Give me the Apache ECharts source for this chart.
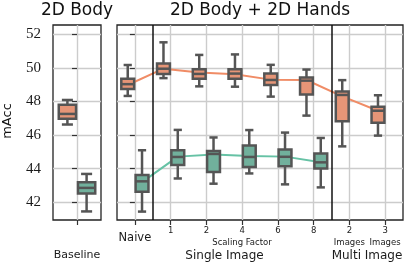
<!DOCTYPE html>
<html><head><meta charset="utf-8">
<script src="https://cdn.jsdelivr.net/npm/echarts@6/dist/echarts.min.js"></script>
<style>html,body{margin:0;padding:0;background:#fff}#c{width:407px;height:263px}</style>
</head><body><div id="c"></div>
<script>
// ---------- data ----------
const categories = ['Naive', '1', '2', '4', '6', '8', '2 Images', '3 Images'];
const baselineCategory = ['Baseline'];
const yTicks = [42, 44, 46, 48, 50, 52];
const separators = [0.5, 5.5];
// box values: [min, q1, median, q3, max]
const baselineOrange = [46.63, 46.98, 47.26, 47.80, 48.09];
const baselineGreen  = [41.46, 42.52, 42.86, 43.19, 43.69];
const orangeBoxes = [
  [48.33, 48.75, 49.03, 49.36, 50.17],
  [49.39, 49.64, 49.95, 50.26, 51.52],
  [48.90, 49.35, 49.64, 49.92, 50.77],
  [48.88, 49.36, 49.66, 49.92, 50.80],
  [48.29, 48.98, 49.28, 49.66, 50.18],
  [47.16, 48.41, 49.24, 49.42, 49.90],
  [45.33, 46.82, 48.39, 48.59, 49.27],
  [45.97, 46.74, 47.45, 47.68, 48.37]
];
const greenBoxes = [
  [41.45, 42.63, 43.25, 43.62, 45.10],
  [43.42, 44.22, 44.70, 45.10, 46.31],
  [43.11, 43.80, 44.88, 45.05, 45.86],
  [43.72, 44.10, 44.70, 45.38, 46.30],
  [43.07, 44.15, 44.71, 45.14, 46.15],
  [42.89, 44.02, 44.38, 44.90, 45.83]
];
const orangeLine = [48.98, 49.95, 49.72, 49.62, 49.30, 49.28, 48.30, 47.45];
const greenLine  = [43.20, 44.72, 44.85, 44.75, 44.72, 44.38];

// ---------- styling ----------
const ORANGE_FILL = '#e69577', GREEN_FILL = '#71b09c';
const ORANGE_LINE = '#f08c66', GREEN_LINE = '#66c2a5';
const EDGE = '#555555';
const GRIDC = '#cccccc';
const SANS = '"DejaVu Sans"';
const SERIF = '"Liberation Serif"';
const OFF = 0.2;
const EDGE_W = 2.5;

function makeBoxRender(fill, off) {
  return function (params, api) {
    const xi = api.value(0);
    const band = api.size([1, 0])[0];
    const cx = api.coord([xi, api.value(3)])[0] + off * band;
    const y = k => api.coord([xi, api.value(k)])[1];
    const yMin = y(1), yQ1 = y(2), yMed = y(3), yQ3 = y(4), yMax = y(5);
    const w = band * 0.36, cap = band * 0.115;
    const st = { stroke: EDGE, lineWidth: EDGE_W };
    return { type: 'group', children: [
      { type: 'line', shape: { x1: cx, y1: yQ1, x2: cx, y2: yMin }, style: st },
      { type: 'line', shape: { x1: cx, y1: yQ3, x2: cx, y2: yMax }, style: st },
      { type: 'line', shape: { x1: cx - cap, y1: yMin, x2: cx + cap, y2: yMin }, style: st },
      { type: 'line', shape: { x1: cx - cap, y1: yMax, x2: cx + cap, y2: yMax }, style: st },
      { type: 'rect', shape: { x: cx - w / 2, y: yQ3, width: w, height: yQ1 - yQ3 },
        style: { fill: fill, stroke: EDGE, lineWidth: EDGE_W } },
      { type: 'line', shape: { x1: cx - w / 2, y1: yMed, x2: cx + w / 2, y2: yMed }, style: st }
    ]};
  };
}

const boxData = (arr) => arr.map((v, i) => [i].concat(v));

const yAxisCommon = {
  type: 'value', min: 40.95, max: 52.55,
  axisLine: { show: false },
  axisTick: { show: true, length: 5, customValues: yTicks, lineStyle: { color: '#333', width: 1.2 } },
  splitLine: { show: true, lineStyle: { color: GRIDC, width: 1.4 } }
};

const mainIdx = categories.map((c, i) => i);

const option = {
  animation: false,
  backgroundColor: '#fff',
  grid: [
    { left: 53, top: 25, width: 48, height: 195, show: true, borderColor: '#222', borderWidth: 1.3, backgroundColor: 'transparent' },
    { left: 117, top: 25, width: 286, height: 195, show: true, borderColor: '#222', borderWidth: 1.3, backgroundColor: 'transparent' }
  ],
  xAxis: [
    { gridIndex: 0, type: 'value', min: -0.5, max: 0.5,
      axisLine: { show: false },
      axisTick: { show: true, length: 5, customValues: [0], lineStyle: { color: '#333', width: 1.2 } },
      axisLabel: { show: true, customValues: [0], margin: 30, fontFamily: SANS, fontSize: 11, color: '#1a1a1a',
        formatter: v => baselineCategory[Math.round(v)] },
      splitLine: { show: true, lineStyle: { color: GRIDC, width: 1.4 } } },
    { gridIndex: 1, type: 'value', min: -0.5, max: categories.length - 0.5,
      axisLine: { show: false },
      axisTick: { show: true, length: 5, customValues: mainIdx, lineStyle: { color: '#333', width: 1.2 } },
      axisLabel: { show: true, customValues: mainIdx, margin: 6, color: '#1a1a1a',
        formatter: v => {
          const c = categories[Math.round(v)];
          if (c === 'Naive') return '{big|Naive}';
          if (c.indexOf(' ') > 0) { const p = c.split(' '); return '{sm|' + p[0] + '}\n{img|' + p[1] + '}'; }
          return '{sm|' + c + '}';
        },
        rich: {
          big: { fontFamily: SANS, fontSize: 11.5, lineHeight: 24, color: '#1a1a1a' },
          sm: { fontFamily: SANS, fontSize: 8.5, lineHeight: 10, color: '#1a1a1a' },
          img: { fontFamily: SANS, fontSize: 8.5, lineHeight: 13, color: '#1a1a1a' }
        } },
      splitLine: { show: true, lineStyle: { color: GRIDC, width: 1.4 } } }
  ],
  yAxis: [
    Object.assign({ gridIndex: 0 }, yAxisCommon, {
      axisLabel: { show: true, customValues: yTicks, margin: 12, fontFamily: SERIF, fontSize: 15, color: '#1a1a1a' } }),
    Object.assign({ gridIndex: 1 }, yAxisCommon, { axisLabel: { show: false } })
  ],
  series: [
    { type: 'line', xAxisIndex: 1, yAxisIndex: 1, z: 2, symbol: 'none',
      lineStyle: { color: ORANGE_LINE, width: 2 },
      data: orangeLine.map((v, i) => [i - OFF, v]),
      markLine: { silent: true, symbol: ['none', 'none'], label: { show: false },
        lineStyle: { color: '#111', width: 1.5, type: 'solid' },
        data: separators.map(s => ({ xAxis: s })) } },
    { type: 'line', xAxisIndex: 1, yAxisIndex: 1, z: 2, symbol: 'none',
      lineStyle: { color: GREEN_LINE, width: 2 },
      data: greenLine.map((v, i) => [i + OFF, v]) },
    { type: 'custom', xAxisIndex: 0, yAxisIndex: 0, z: 5, renderItem: makeBoxRender(ORANGE_FILL, -OFF),
      encode: { x: 0, y: [1, 2, 3, 4, 5] }, data: [[0].concat(baselineOrange)] },
    { type: 'custom', xAxisIndex: 0, yAxisIndex: 0, z: 5, renderItem: makeBoxRender(GREEN_FILL, OFF),
      encode: { x: 0, y: [1, 2, 3, 4, 5] }, data: [[0].concat(baselineGreen)] },
    { type: 'custom', xAxisIndex: 1, yAxisIndex: 1, z: 5, renderItem: makeBoxRender(ORANGE_FILL, -OFF),
      encode: { x: 0, y: [1, 2, 3, 4, 5] }, data: boxData(orangeBoxes) },
    { type: 'custom', xAxisIndex: 1, yAxisIndex: 1, z: 5, renderItem: makeBoxRender(GREEN_FILL, OFF),
      encode: { x: 0, y: [1, 2, 3, 4, 5] }, data: boxData(greenBoxes) }
  ],
  graphic: [
    { type: 'text', x: 77, y: 11, style: { text: '2D Body', fontFamily: SANS, fontSize: 17, align: 'center', verticalAlign: 'middle', fill: '#111' } },
    { type: 'text', x: 260, y: 11, style: { text: '2D Body + 2D Hands', fontFamily: SANS, fontSize: 17, align: 'center', verticalAlign: 'middle', fill: '#111' } },
    { type: 'text', x: 8, y: 121, rotation: Math.PI / 2, style: { text: 'mAcc', fontFamily: SANS, fontSize: 13, align: 'center', verticalAlign: 'middle', fill: '#111' } },
    { type: 'text', x: 242, y: 242.5, style: { text: 'Scaling Factor', fontFamily: SANS, fontSize: 8.5, align: 'center', verticalAlign: 'middle', fill: '#1a1a1a' } },
    { type: 'text', x: 224.5, y: 256, style: { text: 'Single Image', fontFamily: SANS, fontSize: 12, align: 'center', verticalAlign: 'middle', fill: '#1a1a1a' } },
    { type: 'text', x: 367, y: 256, style: { text: 'Multi Image', fontFamily: SANS, fontSize: 12, align: 'center', verticalAlign: 'middle', fill: '#1a1a1a' } }
  ]
};
const chart = echarts.init(document.getElementById('c'), null, { renderer: 'canvas' });
chart.setOption(option);
</script></body></html>
